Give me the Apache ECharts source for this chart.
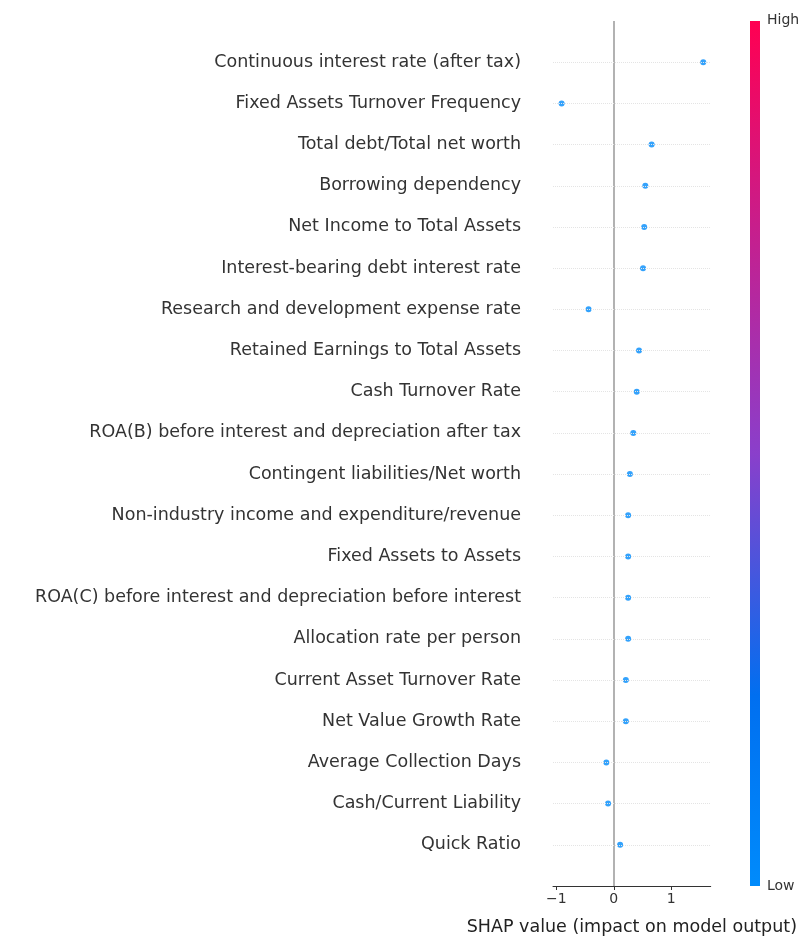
<!DOCTYPE html>
<html><head><meta charset="utf-8">
<script src="https://cdn.jsdelivr.net/npm/echarts@6/dist/echarts.min.js"></script>
<style>html,body{margin:0;padding:0;background:#fff}#c{width:800px;height:950px}</style>
</head><body><div id="c"></div>
<script>
const features = ["Continuous interest rate (after tax)","Fixed Assets Turnover Frequency","Total debt/Total net worth","Borrowing dependency","Net Income to Total Assets","Interest-bearing debt interest rate","Research and development expense rate","Retained Earnings to Total Assets","Cash Turnover Rate","ROA(B) before interest and depreciation after tax","Contingent liabilities/Net worth","Non-industry income and expenditure/revenue","Fixed Assets to Assets","ROA(C) before interest and depreciation before interest","Allocation rate per person","Current Asset Turnover Rate","Net Value Growth Rate","Average Collection Days","Cash/Current Liability","Quick Ratio"];
const shapValues = [1.56,-0.91,0.66,0.55,0.53,0.51,-0.44,0.44,0.40,0.34,0.28,0.25,0.25,0.25,0.25,0.21,0.21,-0.13,-0.10,0.11];
const xTicks = [-1,0,1];
const font = "DejaVu Sans";
const chart = echarts.init(document.getElementById('c'));
chart.setOption({
  animation:false,
  textStyle:{fontFamily:font},
  grid:{left:553,right:60,top:21,bottom:64},
  xAxis:{type:'value',min:-1.06,max:1.69,interval:1,
    axisLine:{show:true,onZero:false,lineStyle:{color:'#333'}},axisTick:{show:true,length:4,lineStyle:{color:'#333'},customValues:xTicks},
    axisLabel:{color:'#333',fontSize:14,margin:6,customValues:xTicks,formatter:v=>v<0?'\u2212'+Math.abs(v):String(v)},
    splitLine:{show:false},
    name:'SHAP value (impact on model output)',nameLocation:'middle',nameGap:32,nameTextStyle:{fontSize:17.5,color:'#222'}},
  yAxis:{type:'value',inverse:true,min:-1,max:20,interval:1,
    axisLine:{show:false},axisTick:{show:false},
    axisLabel:{color:'#333',fontSize:17.5,margin:32,formatter:v=>(v>=0&&v<features.length)?features[v]:''},
    splitLine:{show:false}},
  series:[
    {type:'scatter',symbolSize:6,itemStyle:{color:'#008bfb',borderWidth:0},
     data:shapValues.map((v,i)=>[v,i]),
     markLine:{silent:true,symbol:'none',label:{show:false},
       data:[{xAxis:0,lineStyle:{color:'#999',width:1.5,type:'solid'}}].concat(
         features.map((f,i)=>({yAxis:i,lineStyle:{color:'#e4e4e4',width:1,type:'dotted'}})))}}
  ],
  graphic:[
    {type:'rect',left:750,top:21,shape:{width:10,height:865},
     style:{fill:new echarts.graphic.LinearGradient(0,0,0,1,[{offset:0,color:'#ff0052'},{offset:0.5,color:'#8a3fcb'},{offset:0.78,color:'#006ff0'},{offset:1,color:'#008bfb'}])}},
    {type:'text',left:767,top:13,style:{text:'High',fontSize:14,fill:'#333',fontFamily:font}},
    {type:'text',left:767,top:879,style:{text:'Low',fontSize:14,fill:'#333',fontFamily:font}}
  ]
});
</script></body></html>
